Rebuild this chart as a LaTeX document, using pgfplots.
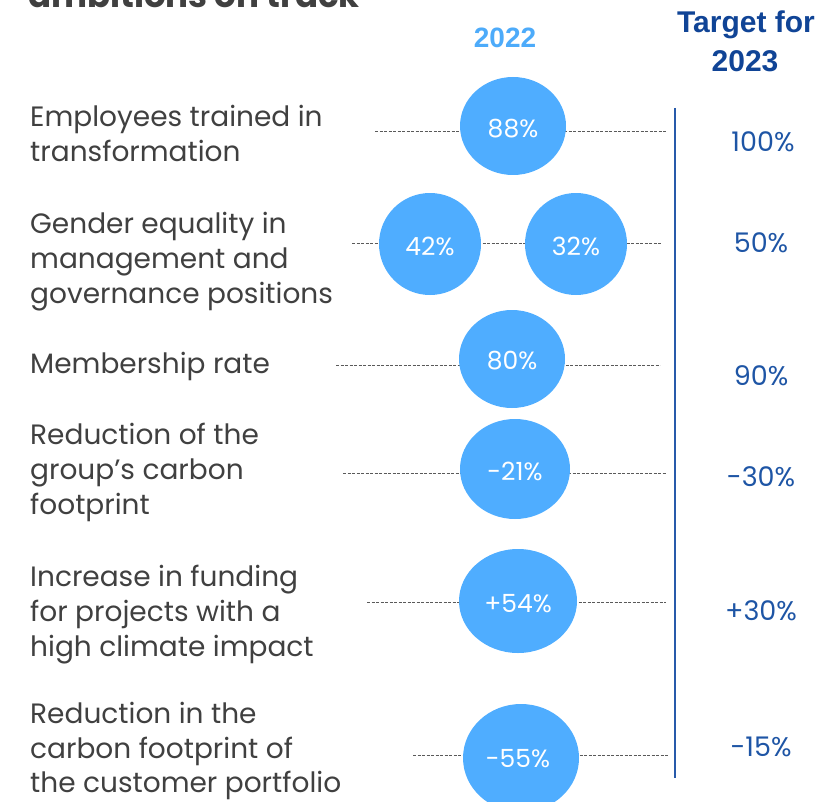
\documentclass[border=0pt]{standalone}
\usepackage{fontspec}
\setmainfont{Poppins}
\newfontfamily\headfont{Liberation Sans}
\usepackage{pgfplots}
\pgfplotsset{compat=1.18}
\definecolor{circ}{RGB}{79,173,255}
\definecolor{yrblue}{RGB}{77,171,250}
\definecolor{tgthead}{RGB}{16,68,150}
\definecolor{tgtval}{RGB}{30,85,165}
\definecolor{vline}{RGB}{40,90,170}
\definecolor{labc}{RGB}{64,64,64}
\definecolor{dashc}{RGB}{90,90,90}
\newcommand{\lab}{\fontsize{28bp}{35bp}\selectfont}
\begin{document}
\begin{tikzpicture}
\begin{axis}[width=831bp,height=802bp,scale only axis,
  xmin=0,xmax=831,ymin=0,ymax=802,y dir=reverse,
  axis lines=none,clip=false]
% dashed guide lines
\pgfplotsset{guide/.style={draw=dashc,line width=0.8bp,dash pattern=on 3bp off 1.5bp,mark=none,forget plot}}
\addplot[guide] coordinates {(375,131) (667,131)};
\addplot[guide] coordinates {(352,243) (662,243)};
\addplot[guide] coordinates {(336,365) (660,365)};
\addplot[guide] coordinates {(343,473) (666,473)};
\addplot[guide] coordinates {(367,602) (666,602)};
\addplot[guide] coordinates {(413,755) (668,755)};
% vertical target line
\addplot[draw=vline,line width=2bp,mark=none] coordinates {(675,108) (675,778)};
% 2022 circles
\addplot[scatter,only marks,mark=*,mark size=0pt,mark options={draw=none,fill=none},
  visualization depends on=value \thisrow{rx}\as\rx,
  visualization depends on=value \thisrow{ry}\as\ry,
  scatter/@pre marker code/.code={\pgfpathellipse{\pgfpointorigin}{\pgfpoint{\rx bp}{0pt}}{\pgfpoint{0pt}{\ry bp}}\pgfsetfillcolor{circ}\pgfusepath{fill}},
  scatter/@post marker code/.code={}]
 table[x=x,y=y] {
 x y rx ry
 513 126 53 49
 430 244 51 51
 576 244 51 51
 512 359 53 49
 515 469 55 50
 518 601 59 52
 521 758 58 54
 };
% 2022 values
\addplot[draw=none,mark=none,nodes near coords={\pgfplotspointmeta\%},point meta=explicit symbolic,
  nodes near coords style={anchor=base,text=white,inner sep=0pt,font=\fontsize{25bp}{28bp}\selectfont}]
 table[x=x,y=y,meta=v] {
 x y v
 513 138 88
 430 255 42
 576 255 32
 512 369 80
 515 480 -21
 518 612 +54
 518 767 -55
 };
% targets 2023
\addplot[draw=none,mark=none,nodes near coords={\pgfplotspointmeta\%},point meta=explicit symbolic,
  nodes near coords style={anchor=base,text=tgtval,inner sep=0pt,font=\fontsize{27bp}{28bp}\selectfont}]
 table[x=x,y=y,meta=v] {
 x y v
 763 152 100
 761 252 50
 761 385 90
 761 486 -30
 761 620 +30
 761 756 -15
 };
% headers
\node[anchor=base,inner sep=0pt,text=yrblue,font=\headfont\bfseries\fontsize{28bp}{30bp}\selectfont] at (axis cs:505,48) {2022};
\node[anchor=base,inner sep=0pt,text=tgthead,font=\headfont\bfseries\fontsize{30bp}{30bp}\selectfont] at (axis cs:746,33) {Target for};
\node[anchor=base,inner sep=0pt,text=tgthead,font=\headfont\bfseries\fontsize{30bp}{30bp}\selectfont] at (axis cs:745,72) {2023};
\node[anchor=base west,inner sep=0pt,text=labc,font=\bfseries\fontsize{34bp}{36bp}\selectfont] at (axis cs:28,8) {ambitions on track};
% category labels
\tikzset{lbl/.style={anchor=base west,inner sep=0pt,text=labc,font=\lab}}
\node[lbl] at (axis cs:30,127) {Employees trained in};
\node[lbl] at (axis cs:30,162) {transformation};
\node[lbl] at (axis cs:30,233) {Gender equality in};
\node[lbl] at (axis cs:30,268) {management and};
\node[lbl] at (axis cs:30,303) {governance positions};
\node[lbl] at (axis cs:30,373) {Membership rate};
\node[lbl] at (axis cs:30,444) {Reduction of the};
\node[lbl] at (axis cs:30,479) {group’s carbon};
\node[lbl] at (axis cs:30,514) {footprint};
\node[lbl] at (axis cs:30,586) {Increase in funding};
\node[lbl] at (axis cs:30,621) {for projects with a};
\node[lbl] at (axis cs:30,656) {high climate impact};
\node[lbl] at (axis cs:30,723) {Reduction in the};
\node[lbl] at (axis cs:30,758) {carbon footprint of};
\node[lbl] at (axis cs:30,792) {the customer portfolio};
\end{axis}
\pgfresetboundingbox
\path[use as bounding box] (current axis.south west) rectangle (current axis.north east);
\end{tikzpicture}
\end{document}
